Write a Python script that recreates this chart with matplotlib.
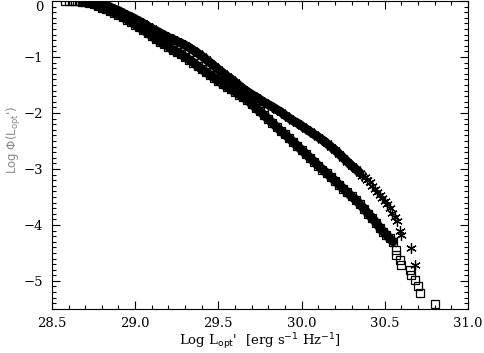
import matplotlib
matplotlib.use("Agg")
import matplotlib.pyplot as plt
from matplotlib.ticker import MultipleLocator

# upper branch (asterisks): log L_opt', log Phi -- dense part of the band
x_ast = [28.700, 28.725, 28.750, 28.775, 28.800, 28.825, 28.850, 28.875, 28.900, 28.925,
         28.950, 28.975, 29.000, 29.025, 29.050, 29.075, 29.100, 29.125, 29.150, 29.175,
         29.200, 29.225, 29.250, 29.275, 29.300, 29.325, 29.350, 29.375, 29.400, 29.425,
         29.450, 29.475, 29.500, 29.525, 29.550, 29.575, 29.600, 29.625, 29.650, 29.675,
         29.700, 29.725, 29.750, 29.775, 29.800, 29.825, 29.850, 29.875, 29.900, 29.925,
         29.950, 29.975, 30.000, 30.025, 30.050, 30.075, 30.100, 30.125, 30.150, 30.175,
         30.200, 30.225, 30.250, 30.275, 30.300, 30.325, 30.350]
y_ast = [0.00, -0.01, -0.02, -0.03, -0.05, -0.08, -0.11, -0.14, -0.17, -0.21,
         -0.25, -0.28, -0.32, -0.36, -0.40, -0.45, -0.49, -0.53, -0.57, -0.61,
         -0.65, -0.68, -0.72, -0.75, -0.79, -0.83, -0.88, -0.93, -0.98, -1.04,
         -1.10, -1.16, -1.22, -1.28, -1.34, -1.39, -1.45, -1.51, -1.57, -1.62,
         -1.67, -1.71, -1.76, -1.81, -1.85, -1.89, -1.94, -1.98, -2.04, -2.09,
         -2.14, -2.18, -2.23, -2.28, -2.33, -2.38, -2.43, -2.48, -2.54, -2.60,
         -2.66, -2.73, -2.80, -2.87, -2.94, -3.00, -3.07]
# sparse asterisk tail
x_ast_tail = [30.365, 30.380, 30.395, 30.410, 30.425, 30.440, 30.455, 30.470, 30.485, 30.500,
              30.515, 30.530, 30.545, 30.560, 30.575, 30.590, 30.600, 30.660, 30.680]
y_ast_tail = [-3.12, -3.15, -3.20, -3.24, -3.30, -3.35, -3.41, -3.46, -3.52, -3.57,
              -3.63, -3.70, -3.78, -3.86, -3.93, -4.10, -4.18, -4.42, -4.71]

# lower branch (squares)
x_sq_head = [28.580, 28.600, 28.620, 28.640, 28.660]
y_sq_head = [0.00, 0.00, 0.00, 0.00, 0.00]
x_sq = [28.680, 28.700, 28.725, 28.750, 28.775,
        28.800, 28.825, 28.850, 28.875, 28.900, 28.925, 28.950, 28.975, 29.000, 29.025,
        29.050, 29.075, 29.100, 29.125, 29.150, 29.175, 29.200, 29.225, 29.250, 29.275,
        29.300, 29.325, 29.350, 29.375, 29.400, 29.425, 29.450, 29.475, 29.500, 29.525,
        29.550, 29.575, 29.600, 29.625, 29.650, 29.675, 29.700, 29.725, 29.750, 29.775,
        29.800, 29.825, 29.850, 29.875, 29.900, 29.925, 29.950, 29.975, 30.000, 30.025,
        30.050, 30.075, 30.100, 30.125, 30.150, 30.175, 30.200, 30.225, 30.250, 30.275,
        30.300, 30.325, 30.350, 30.375, 30.400, 30.425, 30.450, 30.470, 30.490, 30.510,
        30.530, 30.550]
y_sq = [-0.01, -0.02, -0.04, -0.06, -0.09,
        -0.12, -0.15, -0.18, -0.21, -0.25, -0.29, -0.33, -0.37, -0.42, -0.47,
        -0.52, -0.57, -0.62, -0.68, -0.73, -0.77, -0.82, -0.87, -0.91, -0.95,
        -1.00, -1.05, -1.10, -1.16, -1.22, -1.27, -1.32, -1.37, -1.43, -1.48,
        -1.53, -1.58, -1.62, -1.67, -1.72, -1.77, -1.84, -1.91, -1.97, -2.04,
        -2.11, -2.18, -2.25, -2.32, -2.38, -2.45, -2.52, -2.59, -2.66, -2.73,
        -2.80, -2.87, -2.94, -3.01, -3.07, -3.14, -3.21, -3.28, -3.35, -3.42,
        -3.49, -3.55, -3.63, -3.71, -3.80, -3.88, -3.97, -4.05, -4.12, -4.18,
        -4.24, -4.30]
x_sq_tail = [30.565, 30.570, 30.590, 30.600, 30.650, 30.660, 30.680, 30.700, 30.710, 30.800]
y_sq_tail = [-4.45, -4.54, -4.62, -4.71, -4.80, -4.89, -4.98, -5.10, -5.21, -5.41]

fig = plt.figure(figsize=(4.85, 3.53), dpi=100)
ax = fig.add_axes([0.107, 0.125, 0.858, 0.872])

sq = dict(linestyle="none", marker="s", markersize=5.5, markerfacecolor="none",
          markeredgecolor="black", markeredgewidth=0.9)
ast = dict(linestyle="none", marker=(6, 2, 0), markersize=7.5, color="black",
           markeredgewidth=0.9)

# dense runs of markers merge into solid black bands
ax.plot(x_sq, y_sq, color="black", linewidth=6.5, solid_capstyle="round")
ax.plot(x_sq, y_sq, **sq)
ax.plot(x_sq_head, y_sq_head, **sq)
ax.plot(x_sq_tail, y_sq_tail, **sq)
ax.plot(x_ast, y_ast, color="black", linewidth=6.5, solid_capstyle="round")
ax.plot(x_ast, y_ast, **ast)
ax.plot(x_ast_tail, y_ast_tail, **ast)

ax.set_xlim(28.5, 31.0)
ax.set_ylim(-5.5, 0)
ax.xaxis.set_major_locator(MultipleLocator(0.5))
ax.xaxis.set_minor_locator(MultipleLocator(0.1))
ax.yaxis.set_major_locator(MultipleLocator(1))
ax.yaxis.set_minor_locator(MultipleLocator(0.1))
ax.xaxis.set_major_formatter(plt.FuncFormatter(lambda v, p: "%.1f" % v))
ax.yaxis.set_major_formatter(plt.FuncFormatter(lambda v, p: ("%d" % round(v)).replace("-", "\u2212")))

ax.tick_params(which="both", direction="in", top=True, right=True, width=0.8)
ax.tick_params(which="major", length=6, labelsize=9.5, pad=6)
ax.tick_params(which="minor", length=3)
for lab in ax.get_xticklabels() + ax.get_yticklabels():
    lab.set_family("DejaVu Serif")
for sp in ax.spines.values():
    sp.set_linewidth(0.8)

# keep the "0" label inside the figure, as in the original
fig.canvas.draw()
for t in ax.yaxis.get_major_ticks():
    if abs(t.get_loc()) < 1e-9:
        t.label1.set_verticalalignment("top")

ax.set_xlabel(r"Log L$_{\rm opt}$'  [erg s$^{-1}$ Hz$^{-1}$]", fontsize=9.5,
              family="DejaVu Serif", labelpad=1)
ax.set_ylabel(r"Log $\Phi$(L$_{\rm opt}$')", fontsize=8.5, color="#8a8a8a",
              family="DejaVu Sans")
ax.yaxis.set_label_coords(-0.07, 0.55)

fig.savefig("out.png", dpi=100)
